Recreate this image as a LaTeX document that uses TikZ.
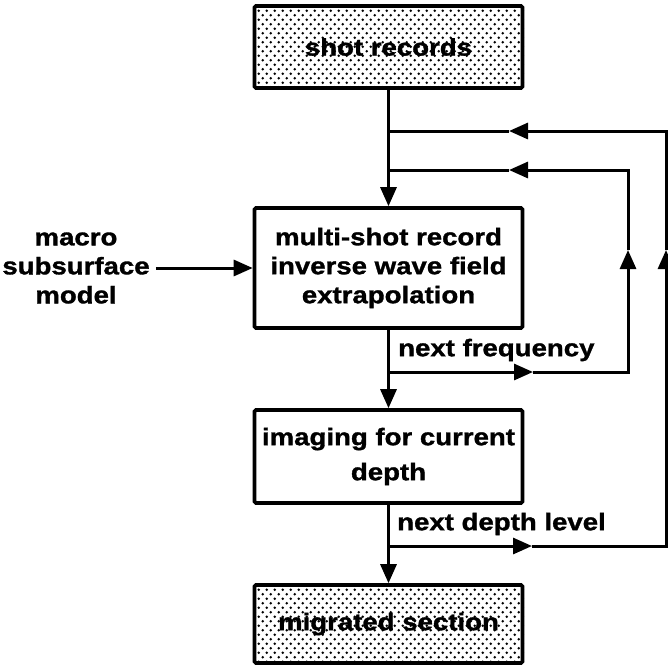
\documentclass[tikz,border=0pt]{standalone}
\usepackage{fontspec}
\setmainfont{Liberation Sans}[FakeStretch=1.15, BoldFeatures={FakeBold=1.3}]
\usetikzlibrary{arrows.meta}
\pgfdeclarelayer{background}
\pgfsetlayers{background,main}

\begin{document}
\begin{tikzpicture}[x=1pt,y=-1pt,
  lbl/.style={font=\fontsize{24}{29}\selectfont\bfseries, align=center},
  box/.style={draw, line width=3.6pt, rounded corners=1.5pt, inner sep=0pt, lbl,
              minimum width=268pt},
  link/.style={line width=3pt},
  tip/.style={-{Triangle[length=19pt,width=16pt]}},
]
\useasboundingbox (0,0) rectangle (668,667);

% process boxes
\node[box, minimum height=82pt]  (shot)  at (388.5,47)    {shot records};
\node[box, minimum height=120pt] (multi) at (388.5,268)   {multi-shot record\\inverse wave field\\extrapolation};
\node[box, minimum height=93pt]  (image) at (388.5,456.5) {imaging for current\\[6pt]depth};
\node[box, minimum height=78pt]  (migr)  at (388.5,624)   {migrated section};

% input model
\node[lbl, inner sep=0pt] (model) at (76,268) {macro\\subsurface\\model};

% loop labels
\node[lbl, anchor=west, inner sep=0pt] (nfreq)  at (398,350) {next frequency};
\node[lbl, anchor=west, inner sep=0pt] (ndepth) at (397,524) {next depth level};

% stipple fill of input/output boxes
\begin{pgfonlayer}{background}
\foreach \b in {shot,migr}{
  \begin{scope}
    \clip (\b.south west) rectangle (\b.north east);
    \path (\b.north west) coordinate (o);
    \foreach \r in {0,...,19}{
      \pgfmathsetmacro\off{4*mod(\r,2)}
      \foreach \c in {0,...,34}{
        \fill[shift={(o)}] (8*\c+\off+2, 4.5*\r+2) circle (1.4pt);
      }
    }
  \end{scope}
}
\end{pgfonlayer}

% junctions and corners of the two feedback loops
\coordinate (jOut)  at (388.5,131);
\coordinate (jIn)   at (388.5,170);
\coordinate (fA)    at (388.5,372);
\coordinate (fTip)  at (533,372);
\coordinate (fB)    at (628,372);
\coordinate (fUp)   at (628,250);
\coordinate (fC)    at (628,170);
\coordinate (fBack) at (509,170);
\coordinate (dA)    at (388.5,546);
\coordinate (dTip)  at (532,546);
\coordinate (dB)    at (666,546);
\coordinate (dUp)   at (666,250);
\coordinate (dC)    at (666,131);
\coordinate (dBack) at (509,131);

% main flow
\draw[link,tip] (shot) -- (multi);
\draw[link,tip] (multi) -- (image);
\draw[link,tip] (image) -- (migr);
\draw[link,tip] ([xshift=6pt]model.east |- multi.west) -- (multi.west);

% frequency loop
\draw[link,tip] (fA) -- (fTip);
\draw[link,tip] (fTip) -- (fB) -- (fUp);
\draw[link,tip] (fUp) -- (fC) -- (fBack);
\draw[link] (fBack) -- (jIn);

% depth loop
\draw[link,tip] (dA) -- (dTip);
\draw[link,tip] (dTip) -- (dB) -- (dUp);
\draw[link,tip] (dUp) -- (dC) -- (dBack);
\draw[link] (dBack) -- (jOut);
\end{tikzpicture}
\end{document}
